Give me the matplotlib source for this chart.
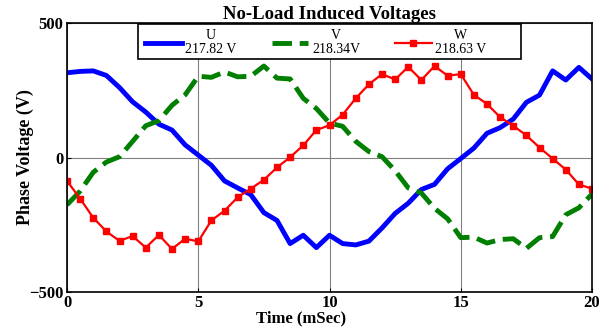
import numpy as np
import matplotlib
matplotlib.use("Agg")
import matplotlib.pyplot as plt
from matplotlib.patches import Rectangle

plt.rcParams['font.family'] = ['Liberation Serif', 'DejaVu Serif']

t = [i * 0.5 for i in range(41)]

u_vals = [315, 320, 322, 305, 260, 207, 169, 124, 102, 47, 9, -29, -87, -113, -138, -205, -234, -320, -289, -335, -289,
          -320, -325, -311, -262, -208, -170, -119, -100, -42, -4, 35, 90, 111, 143, 205, 232, 322, 288, 335, 292]
v_vals = [-176, -125, -55, -17, 3, 60, 118, 137, 194, 233, 302, 298, 318, 300, 302, 340, 295, 292, 220, 182, 128,
          116, 60, 22, 3, -49, -113, -132, -189, -228, -298, -296, -318, -305, -302, -338, -298, -294, -213, -187, -136]
w_vals = [-87, -153, -224, -275, -310, -292, -335, -288, -340, -302, -312, -234, -198, -148, -116, -83, -37, 1, 45, 102, 120,
          159, 220, 272, 310, 290, 337, 288, 340, 304, 310, 233, 199, 150, 118, 82, 37, -4, -45, -100, -116]

labels = ["U\n217.82 V", "V\n218.34V", "W\n218.63 V"]
title = "No-Load Induced Voltages"
xlabel = "Time (mSec)"
ylabel = "Phase Voltage (V)"
xticks = [0, 5, 10, 15, 20]
yticks = [-500, 0, 500]

fig = plt.figure(figsize=(6.13, 3.34), dpi=100)
ax = fig.add_axes([67/613, 1 - 292/334, 525/613, 269/334])

ax.plot(t, u_vals, color='#0000ff', lw=3.5, label=labels[0], solid_joinstyle='round')
ax.plot(t, v_vals, color='#007f00', lw=3.5, ls=(0, (4, 1.6)), label=labels[1])
ax.plot(t, w_vals, color='#ff0000', lw=1.6, marker='s', ms=4.5, label=labels[2])

ax.set_xlim(0, 20)
ax.set_ylim(-500, 500)
ax.set_xticks(xticks)
ax.set_yticks(yticks)
ax.grid(True, color='#808080', lw=0.8)
ax.tick_params(direction='in', length=3, labelsize=12, pad=2.5)
for lab in ax.get_xticklabels() + ax.get_yticklabels():
    lab.set_fontweight('bold')
for s in ax.spines.values():
    s.set_linewidth(1.2)

ax.set_xlabel(xlabel, fontsize=12, fontweight='bold')
ax.xaxis.set_label_coords((301.5 - 67) / 525, -0.07, transform=ax.transAxes)
ax.xaxis.label.set_va('top')
ax.set_ylabel(ylabel, fontsize=13, fontweight='bold')
ax.yaxis.set_label_coords((34 - 67) / 525, 0.5, transform=ax.transAxes)
ax.set_title(title, fontsize=13.5, fontweight='bold', pad=-2)

frame = Rectangle(((138 - 67) / 525, (292 - 59) / 269), (521 - 138) / 525, 35 / 269,
                  transform=ax.transAxes, facecolor='white', edgecolor='black', lw=1.2,
                  zorder=4.5, clip_on=False)
ax.add_patch(frame)

leg = ax.legend(loc='center left', bbox_to_anchor=((145 - 67) / 525, (292 - 42.5) / 269), ncol=3,
                frameon=False, borderaxespad=0, borderpad=0,
                fontsize=10, handlelength=2.66, handletextpad=0.25,
                columnspacing=2.5)
leg.set_zorder(5)
for txt in leg.get_texts():
    txt.set_multialignment('center')
    txt.set_linespacing(1.08)

fig.savefig('out.png', dpi=100)
